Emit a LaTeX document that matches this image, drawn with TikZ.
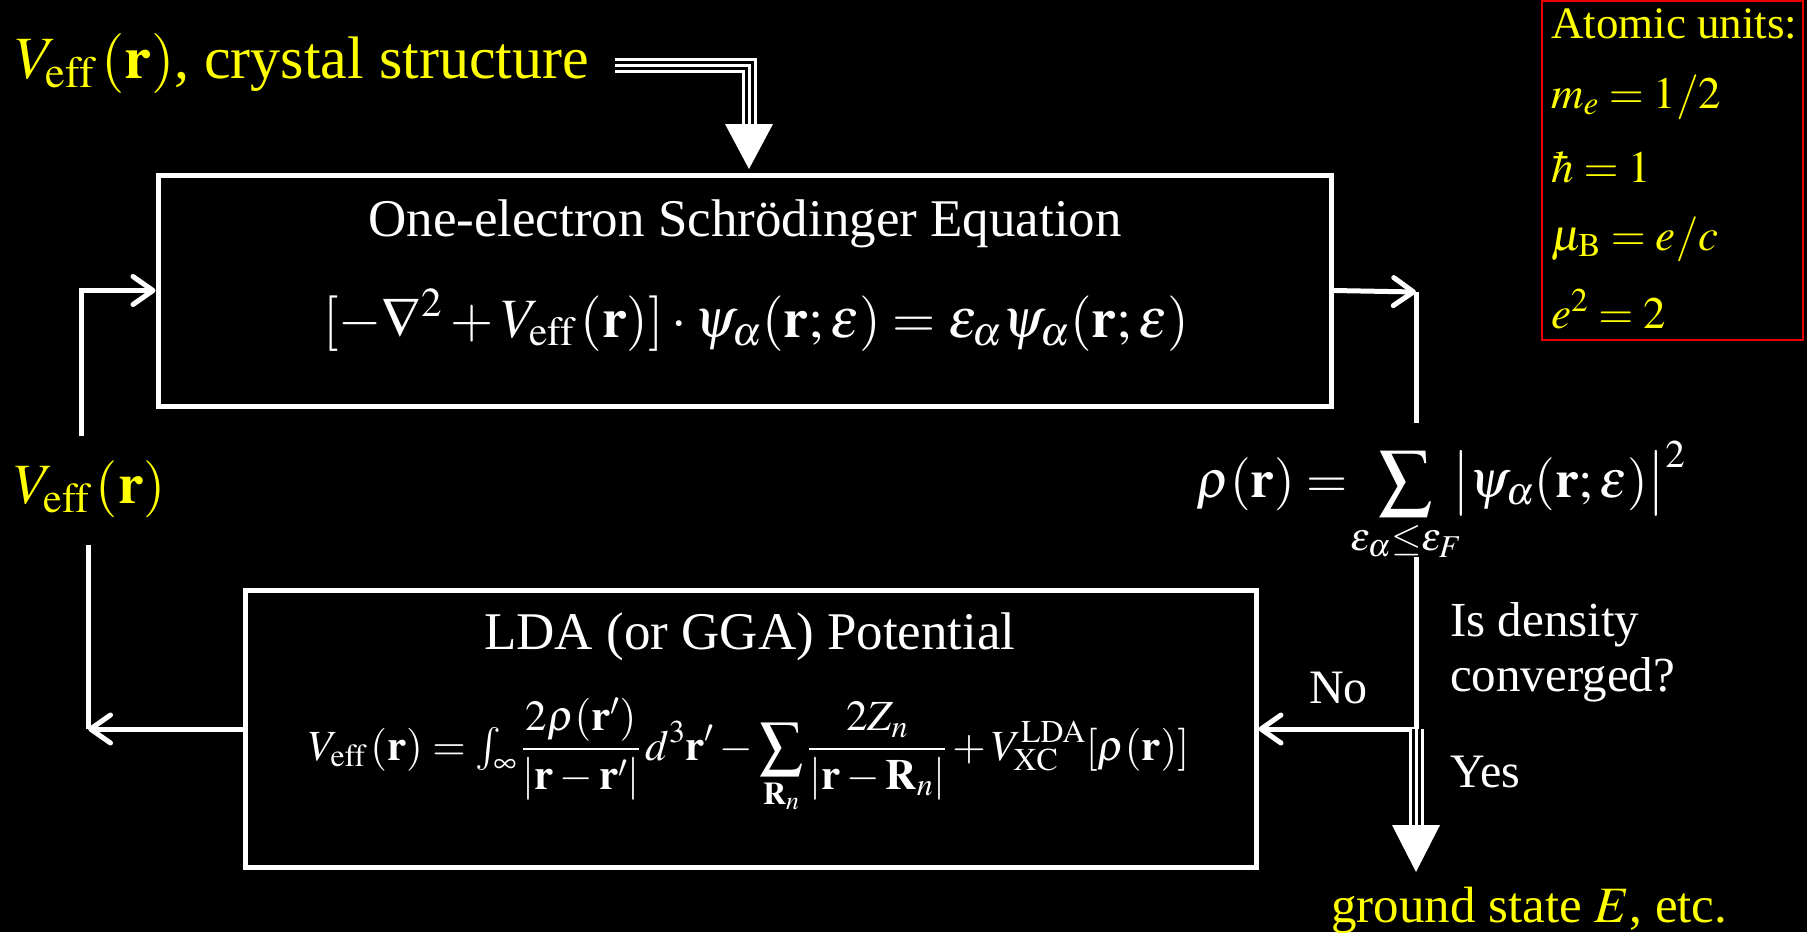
\documentclass[tikz,border=0pt]{standalone}
\usepackage{mathptmx}
\usepackage{fontspec}
\setmainfont{Liberation Serif}
\usetikzlibrary{arrows.meta}
\definecolor{yel}{RGB}{255,255,0}
\definecolor{redbox}{RGB}{235,0,0}
\newcommand\setfs[1]{\fontsize{#1}{#1}\selectfont}
\newcommand\tripleline[1]{%
  \draw[white,line width=15pt,line join=miter] #1;
  \draw[black,line width=9pt,line join=miter] #1;
  \draw[white,line width=3pt,line join=miter] #1;}
\begin{document}
\begin{tikzpicture}[x=1pt,y=-1pt,
  box/.style={draw=white,line width=5pt,inner sep=0pt},
  conn/.style={white,line width=5pt},
  barb/.style={-{Straight Barb[length=20pt,width=28pt,line cap=round,line join=round]}},
  txt/.style={inner sep=0pt,white},
  ytxt/.style={inner sep=0pt,yel}]
\fill[black] (0,0) rectangle (1807,932);
\useasboundingbox (0,0) rectangle (1807,932);

% boxes
\node[box,minimum width=1173pt,minimum height=231pt] (top) at (744.5,290.5) {};
\node[box,minimum width=1011pt,minimum height=277pt] (bot) at (750.5,728.5) {};
\node[draw=redbox,line width=2.5pt,inner sep=0pt,minimum width=261pt,minimum height=339pt] (units) at (1672.5,170.5) {};

% title and input
\node[ytxt,anchor=base west] (title) at (15,78) {\setfs{60}$V_{\mathrm{eff}}\,(\mathbf r)$, crystal structure};
\coordinate (ts) at (615,65);
\coordinate (ta) at (749,124);
\coordinate (ttip) at (749,169);
\tripleline{(ts) -| (ta)}
\fill[white] (ta) ++(-24,0) -- ++(48,0) -- (ttip) -- cycle;

% top box text
\node[txt,anchor=base] (toptitle) at (745,236) {\setfs{53}One-electron Schrödinger Equation};
\node[txt,anchor=base] (topeq) at (756,337) {\setfs{55.5}$[-\nabla^2+V_{\mathrm{eff}}\,(\mathbf r)]\cdot\psi_\alpha(\mathbf r;\varepsilon)=\varepsilon_\alpha\psi_\alpha(\mathbf r;\varepsilon)$};

% density
\node[txt,anchor=base east] (rholhs) at (1348,497) {\setfs{53}$\rho(\mathbf r)=$};
\node[txt,anchor=base] (rhosum) at (1406,497) {\setfs{53}$\displaystyle\sum_{\varepsilon_\alpha\le\varepsilon_F}$};
\node[txt,anchor=base west] (rhorhs) at (1452,497) {\setfs{53}$\bigl|\psi_\alpha(\mathbf r;\varepsilon)\bigr|^2$};

% left label
\node[ytxt,anchor=base west] (veffl) at (14,503) {\setfs{57}$V_{\mathrm{eff}}\,(\mathbf r)$};

% bottom box text
\node[txt,anchor=base] (bottitle) at (750,649) {\setfs{53}LDA (or GGA) Potential};
\node[txt,anchor=base] (boteq) at (749,760) {\setfs{43}$\displaystyle V_{\mathrm{eff}}\,(\mathbf r)=\textstyle\int_\infty\displaystyle\frac{2\rho(\mathbf r')}{|\mathbf r-\mathbf r'|}\,d^3\mathbf r'-\sum_{\mathbf R_n}\frac{2Z_n}{|\mathbf r-\mathbf R_n|}+V_{\mathrm{XC}}^{\mathrm{LDA}}[\rho(\mathbf r)]$};

% right texts
\node[txt,anchor=base west] (conv1) at (1450,636) {\setfs{49}Is density};
\node[txt,anchor=base west] (conv2) at (1450,691) {\setfs{49}converged?};
\node[txt,anchor=base west] (no) at (1309,703) {\setfs{48}No};
\node[txt,anchor=base west] (yes) at (1450,787) {\setfs{48}Yes};
\node[ytxt,anchor=base west] (ground) at (1331,922) {\setfs{51}ground state $E$, etc.};

% atomic units
\node[ytxt,anchor=base west] (au1) at (1551,38) {\setfs{45}Atomic units:};
\node[ytxt,anchor=base west] (au2) at (1551,108) {\setfs{45}$m_e=1/2$};
\node[ytxt,anchor=base west] (au3) at (1551,182) {\setfs{45}$\hbar=1$};
\node[ytxt,anchor=base west] (au4) at (1551,250) {\setfs{45}$\mu_{\mathrm B}=e/c$};
\node[ytxt,anchor=base west] (au5) at (1551,328) {\setfs{45}$e^2=2$};

% connectors
\coordinate (lv) at (81,436);
\draw[conn,barb] (lv) |- (top.west);
\coordinate (rc) at (1416,292);
\draw[conn,barb] (top.east) -- (rc);
\coordinate (rd) at (1416,423);
\draw[conn] (rc) -- (rd);
\coordinate (ru) at (1416,557);
\coordinate (jn) at (1416,729);
\draw[conn] (ru) -- (jn);
\draw[conn,barb] (jn) -- (jn -| bot.east);
\coordinate (lc) at (88,729);
\draw[conn,barb] (bot.west |- lc) -- (lc);
\coordinate (lu) at (88,545);
\draw[conn] (lc) -- (lu);
\coordinate (ba) at (1416,825);
\coordinate (btip) at (1416,872);
\tripleline{(jn) -- (ba)}
\fill[white] (ba) ++(-24,0) -- ++(48,0) -- (btip) -- cycle;
\end{tikzpicture}
\end{document}
